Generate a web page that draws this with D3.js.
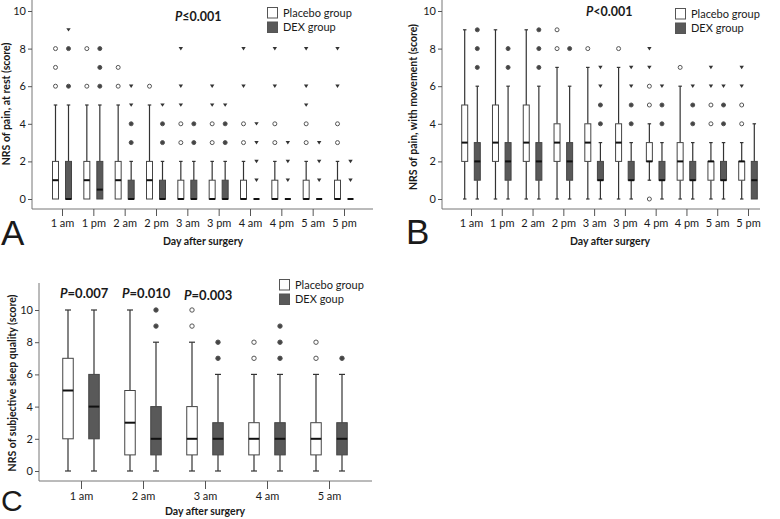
<!DOCTYPE html>
<html>
<head>
<meta charset="utf-8">
<script src="https://cdn.jsdelivr.net/npm/d3@7"></script>
<style>
  body { margin: 0; background: #fff; }
  text { font-family: Lato, "Open Sans", sans-serif; fill: #1a1a1a; }
</style>
</head>
<body>
<svg id="fig" width="780" height="519"></svg>
<script>
// box summaries are [whiskerLow, q1, median, q3, whiskerHigh]
// "out" = circles (outliers), "ext" = small triangles (extremes)
var timesA = ["1 am", "1 pm", "2 am", "2 pm", "3 am", "3 pm", "4 am", "4 pm", "5 am", "5 pm"];
var timesB = ["1 am", "1 pm", "2 am", "2 pm", "3 am", "3 pm", "4 pm", "4 pm", "5 am", "5 pm"];
var timesC = ["1 am", "2 am", "3 am", "4 am", "5 am"];
var yTicks = [0, 2, 4, 6, 8, 10];

var restPlacebo = [[0,0,1,2,5],[0,0,1,2,5],[0,0,1,2,5],[0,0,1,2,5],[0,0,0,1,2],[0,0,0,1,2],[0,0,0,1,2],[0,0,0,1,2],[0,0,0,1,2],[0,0,0,1,2]];
var restPlaceboOut = [[6,7,8],[6,8],[6,7],[6],[3,4],[3,4],[3,4],[3,4],[3,4],[3,4]];
var restPlaceboExt = [[],[],[],[],[5,6,8],[5,6],[6,8],[6,8],[5,6,8],[6,8]];
var restDex = [[0,0,0,2,5],[0,0,0.5,2,5],[0,0,0,1,2],[0,0,0,1,2],[0,0,0,1,2],[0,0,0,1,2],[0,0,0,0,0],[0,0,0,0,0],[0,0,0,0,0],[0,0,0,0,0]];
var restDexOut = [[6,8],[6,7,8],[3,4],[3,4],[3,4],[3,4],[],[],[],[]];
var restDexExt = [[9],[],[5,6],[5],[],[5],[1,2,3,4],[1,2,3],[1,2,3],[1,2]];

var movePlacebo = [[0,2,3,5,9],[0,2,3,5,9],[0,2,3,5,9],[0,2,3,4,7],[0,2,3,4,7],[0,2,3,4,7],[1,2,2,3,4],[0,1,2,3,6],[0,1,2,2,3],[0,1,2,2,3]];
var movePlaceboOut = [[],[],[],[8,9],[8],[8],[0,5,6],[7],[4,5],[4,5]];
var movePlaceboExt = [[],[],[],[],[],[],[7,8],[],[6,7],[6,7]];
var moveDex = [[0,1,2,3,6],[0,1,2,3,6],[0,1,2,3,6],[0,1,2,3,6],[0,1,1,2,3],[0,1,1,2,3],[0,1,1,2,3],[0,1,1,2,3],[0,1,1,2,3],[0,0,1,2,4]];
var moveDexOut = [[7,8,9],[7,8],[7,8,9],[8],[4,5],[4,5],[4,5],[4,5],[4,5],[]];
var moveDexExt = [[],[],[],[],[6,7],[6,7],[6],[6],[6],[]];

var sleepPlacebo = [[0,2,5,7,10],[0,1,3,5,10],[0,1,2,4,8],[0,1,2,3,6],[0,1,2,3,6]];
var sleepPlaceboOut = [[],[],[9,10],[7,8],[7,8]];
var sleepDex = [[0,2,4,6,10],[0,1,2,4,8],[0,1,2,3,6],[0,1,2,3,6],[0,1,2,3,6]];
var sleepDexOut = [[],[9,10],[7,8],[7,8,9],[7]];
var sleepP = ["0.007", "0.010", "0.003"];

var svg = d3.select("#fig");
var dexFill = "#595959";

function drawPanel(c) {
  var g = svg.append("g");
  var x = d3.scalePoint().domain(d3.range(c.labels.length)).range([c.firstTick, c.lastTick]);
  var y = d3.scaleLinear().domain([0, 10]).range([c.y0, c.y10]);

  // axes
  g.append("line").attr("x1", c.axisLeft).attr("x2", c.axisLeft)
    .attr("y1", c.axisTop).attr("y2", c.axisBottom).attr("stroke", "#777");
  g.append("line").attr("x1", c.axisLeft).attr("x2", c.axisRight)
    .attr("y1", c.axisBottom).attr("y2", c.axisBottom).attr("stroke", "#777");

  var ya = g.append("g").attr("transform", "translate(" + c.axisLeft + ",0)")
    .call(d3.axisLeft(y).tickValues(yTicks).tickSize(4).tickPadding(2));
  ya.select(".domain").remove();
  ya.selectAll("line").attr("stroke", "#555");
  ya.selectAll("text").style("font-size", "11px").style("font-family", "Lato");

  var xa = g.append("g").attr("transform", "translate(0," + c.axisBottom + ")")
    .call(d3.axisBottom(x).tickSize(c.tickLen).tickPadding(3).tickFormat(function(i) { return c.labels[i]; }));
  xa.select(".domain").remove();
  xa.selectAll("line").attr("stroke", "#555");
  xa.selectAll("text").style("font-size", "11px").style("font-family", "Lato");

  // boxes
  function drawGroup(stats, outs, exts, dx, fill, dotFill) {
    stats.forEach(function(s, i) {
      var cx = x(i) + dx, hw = c.boxW / 2, cw = c.capW / 2;
      var bg = g.append("g");
      bg.append("line").attr("x1", cx).attr("x2", cx).attr("y1", y(s[0])).attr("y2", y(s[1]))
        .attr("stroke", "#333").attr("stroke-width", 1.2);
      bg.append("line").attr("x1", cx).attr("x2", cx).attr("y1", y(s[3])).attr("y2", y(s[4]))
        .attr("stroke", "#333").attr("stroke-width", 1.2);
      [s[0], s[4]].forEach(function(v) {
        if (v === s[1] || v === s[3]) return;
        bg.append("line").attr("x1", cx - cw).attr("x2", cx + cw).attr("y1", y(v)).attr("y2", y(v))
          .attr("stroke", "#333").attr("stroke-width", 1.2);
      });
      if (s[3] > s[1]) {
        bg.append("rect").attr("x", cx - hw).attr("y", y(s[3])).attr("width", c.boxW)
          .attr("height", y(s[1]) - y(s[3])).attr("fill", fill).attr("stroke", "#444").attr("stroke-width", 1);
      }
      bg.append("line").attr("x1", cx - hw).attr("x2", cx + hw).attr("y1", y(s[2])).attr("y2", y(s[2]))
        .attr("stroke", "#111").attr("stroke-width", 2);

      (outs[i] || []).forEach(function(v) {
        bg.append("circle").attr("cx", cx).attr("cy", y(v)).attr("r", c.dotR)
          .attr("fill", dotFill ? "#444" : "#fff").attr("stroke", "#555").attr("stroke-width", 1);
      });
      (exts[i] || []).forEach(function(v) {
        bg.append("path").attr("d", "M-2.2,-1.6L2.2,-1.6L0,1.8Z")
          .attr("transform", "translate(" + cx + "," + y(v) + ")").attr("fill", "#333");
      });
    });
  }
  drawGroup(c.placebo, c.placeboOut, c.placeboExt, -c.offset, "#fff", false);
  drawGroup(c.dex, c.dexOut, c.dexExt, c.offset, dexFill, true);

  // labels
  g.append("text").attr("transform", "translate(" + c.yLabelX + "," + c.yLabelY + ") rotate(-90)")
    .attr("text-anchor", "middle").style("font-size", "10.5px").style("font-weight", "bold").text(c.yLabel);
  g.append("text").attr("x", c.xLabelX).attr("y", c.xLabelY).attr("text-anchor", "middle")
    .style("font-size", "10.5px").style("font-weight", "bold").text("Day after surgery");
  g.append("text").attr("x", c.letterX).attr("y", c.letterY)
    .style("font-family", "Liberation Sans, Arial, sans-serif").style("font-size", c.letterSize || "35px").text(c.letter);

  // legend
  var lg = g.append("g").attr("transform", "translate(" + c.legX + "," + c.legY + ")");
  [["#fff", "Placebo group"], [dexFill, c.dexName]].forEach(function(d, i) {
    lg.append("rect").attr("x", 0.5).attr("y", i * 14.5 + 0.5).attr("width", 10).attr("height", 10.5)
      .attr("fill", d[0]).attr("stroke", "#555");
    lg.append("text").attr("x", 16).attr("y", i * 14.5 + 9.5).style("font-size", "11px").text(d[1]);
  });
  return x;
}

function pText(x, y, rel, val, size) {
  var t = svg.append("text").attr("x", x).attr("y", y).style("font-size", size).style("font-weight", "bold");
  t.append("tspan").style("font-style", "italic").text("P");
  t.append("tspan").text(rel + val);
}

drawPanel({
  labels: timesA, firstTick: 62, lastTick: 344, y0: 199, y10: 11,
  axisLeft: 32, axisRight: 373, axisTop: 0, axisBottom: 209, tickLen: 7,
  boxW: 6, capW: 3.5, offset: 6.5, dotR: 2,
  placebo: restPlacebo, placeboOut: restPlaceboOut, placeboExt: restPlaceboExt,
  dex: restDex, dexOut: restDexOut, dexExt: restDexExt,
  yLabel: "NRS of  pain, at rest (score)", yLabelX: 10, yLabelY: 104,
  xLabelX: 203, xLabelY: 245, letter: "A", letterX: 1, letterY: 245,
  legX: 267, legY: 7, dexName: "DEX group"
});
pText(175, 21, "\u2264", "0.001", "12.5px");

drawPanel({
  labels: timesB, firstTick: 471, lastTick: 748, y0: 199, y10: 11,
  axisLeft: 442, axisRight: 760, axisTop: 0, axisBottom: 209, tickLen: 7,
  boxW: 6, capW: 3.5, offset: 6.3, dotR: 2,
  placebo: movePlacebo, placeboOut: movePlaceboOut, placeboExt: movePlaceboExt,
  dex: moveDex, dexOut: moveDexOut, dexExt: moveDexExt,
  yLabel: "NRS of pain, with movement (score)", yLabelX: 417, yLabelY: 107,
  xLabelX: 610, xLabelY: 245, letter: "B", letterX: 406, letterY: 244,
  legX: 675, legY: 8, dexName: "DEX group"
});
pText(586, 16, "<", "0.001", "12.5px");

var xc = drawPanel({
  labels: timesC, firstTick: 81, lastTick: 329, y0: 471, y10: 310,
  axisLeft: 39, axisRight: 372, axisTop: 283, axisBottom: 481, tickLen: 8,
  boxW: 10.5, capW: 6, offset: 13, dotR: 2.2,
  placebo: sleepPlacebo, placeboOut: sleepPlaceboOut, placeboExt: [],
  dex: sleepDex, dexOut: sleepDexOut, dexExt: [],
  yLabel: "NRS of subjective sleep quality (score)", yLabelX: 16, yLabelY: 383,
  xLabelX: 205, xLabelY: 515, letter: "C", letterX: 1, letterY: 511, letterSize: "30px",
  legX: 279, legY: 279, dexName: "DEX goup"
});
var pY = [298, 298, 300];
sleepP.forEach(function(v, i) {
  pText(xc(i) - 21, pY[i], "=", v, "13px");
});
</script>
</body>
</html>
